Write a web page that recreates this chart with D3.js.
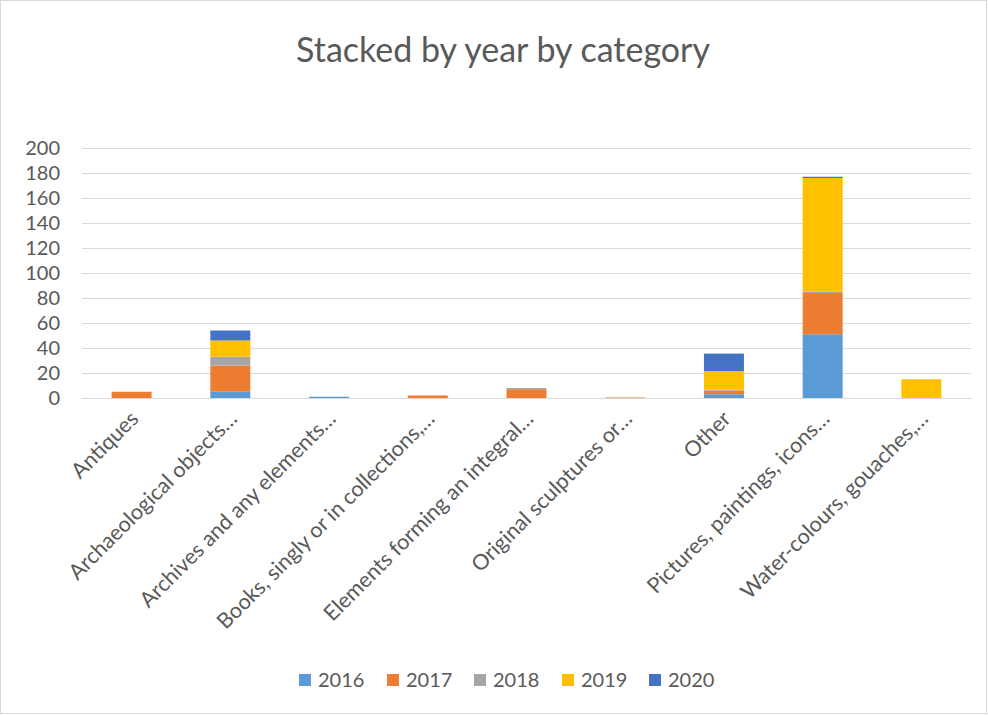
<!DOCTYPE html>
<html>
<head>
<meta charset="utf-8">
<script src="https://cdn.jsdelivr.net/npm/d3@7"></script>
<style>
  body { margin: 0; background: #fff; }
  text { font-family: Lato, "Open Sans", sans-serif; fill: #595959; }
</style>
</head>
<body>
<script>
// categories and series
var categories = ["Antiques", "Archaeological objects…", "Archives and any elements…",
  "Books, singly or in collections,…", "Elements forming an integral…",
  "Original sculptures or…", "Other", "Pictures, paintings, icons…", "Water-colours, gouaches,…"];
var years = ["2016", "2017", "2018", "2019", "2020"];
var v2016 = [0, 5, 1, 0, 0, 0, 3, 51, 0];
var v2017 = [5, 21, 0, 2, 7, 0.4, 3, 33, 0];
var v2018 = [0, 7, 0, 0, 1, 0, 0.5, 1, 0];
var v2019 = [0, 13, 0, 0, 0, 0, 15, 91, 15];
var v2020 = [0, 8, 0, 0, 0, 0, 14, 1, 0];
var yTicks = [0, 20, 40, 60, 80, 100, 120, 140, 160, 180, 200];
var colors = ["#5B9BD5", "#ED7D31", "#A5A5A5", "#FFC000", "#4472C4"];

var W = 988, H = 715;
var margin = {top: 148, right: 17, bottom: 317, left: 82},
    width = W - margin.left - margin.right,
    height = H - margin.top - margin.bottom;

var svg = d3.select("body").append("svg")
    .attr("width", W)
    .attr("height", H);

// chart border
svg.append("rect")
    .attr("x", 0.5).attr("y", 0.5)
    .attr("width", W - 2).attr("height", H - 2)
    .attr("fill", "#fff")
    .attr("stroke", "#d9d9d9");

// title
svg.append("text")
    .attr("x", 503).attr("y", 62)
    .attr("text-anchor", "middle")
    .style("font-size", "34px")
    .text("Stacked by year by category");

var g = svg.append("g")
    .attr("transform", "translate(" + margin.left + "," + margin.top + ")");

var x = d3.scaleBand().domain(categories).range([0, width]).paddingInner(0.595).paddingOuter(0.3);
var y = d3.scaleLinear().domain([0, 200]).range([height, 0]);

// table for the stack
var series = [v2016, v2017, v2018, v2019, v2020];
var table = categories.map(function(c, i) {
  var row = {category: c};
  years.forEach(function(yr, k) { row[yr] = series[k][i]; });
  return row;
});
var stacked = d3.stack().keys(years)(table);

// gridlines
g.append("g")
    .attr("class", "grid")
    .call(d3.axisLeft(y).tickValues(yTicks).tickSize(-width).tickFormat(""))
    .call(function(s) {
      s.select(".domain").remove();
      s.selectAll("line").attr("stroke", "#d9d9d9").attr("stroke-width", 1);
    });

// bars
g.selectAll(".layer")
    .data(stacked)
  .enter().append("g")
    .attr("class", "layer")
    .attr("fill", function(d, i) { return colors[i]; })
  .selectAll("rect")
    .data(function(d) { return d; })
  .enter().append("rect")
    .attr("x", function(d) { return x(d.data.category); })
    .attr("width", x.bandwidth())
    .attr("y", function(d) { return y(d[1]); })
    .attr("height", function(d) { return y(d[0]) - y(d[1]); });

// y axis labels
g.append("g")
    .call(d3.axisLeft(y).tickValues(yTicks).tickSize(0).tickPadding(22))
    .call(function(s) {
      s.select(".domain").remove();
      s.selectAll("text").style("font-size", "20px").attr("fill", "#595959");
    });

// x axis
var xAxis = g.append("g")
    .attr("transform", "translate(0," + height + ")")
    .call(d3.axisBottom(x).tickSize(0))
    .call(function(s) {
      s.select(".domain").attr("stroke", "#d9d9d9");
    });
xAxis.selectAll("text")
    .style("font-size", "21.5px")
    .attr("fill", "#595959")
    .style("text-anchor", "end")
    .attr("dx", "0")
    .attr("dy", "0")
    .attr("transform", "translate(6,20) rotate(-45)");

// legend
var legendX = [299, 387, 474, 562, 649];
var legend = svg.append("g").selectAll("g")
    .data(years)
  .enter().append("g")
    .attr("transform", function(d, i) { return "translate(" + legendX[i] + ",674)"; });
legend.append("rect")
    .attr("width", 12).attr("height", 12)
    .attr("fill", function(d, i) { return colors[i]; });
legend.append("text")
    .attr("x", 19).attr("y", 13)
    .style("font-size", "20px")
    .text(function(d) { return d; });
</script>
</body>
</html>
